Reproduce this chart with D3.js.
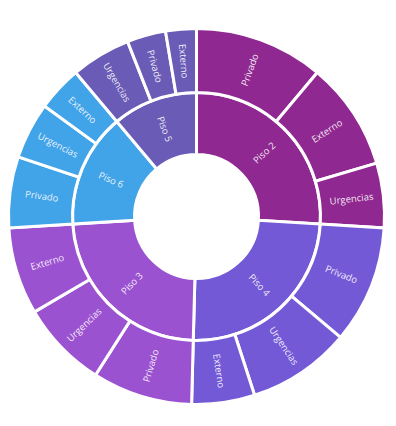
<!DOCTYPE html>
<html>
<head>
<meta charset="utf-8">
<script src="https://cdn.jsdelivr.net/npm/d3@7"></script>
<style>
  body { margin: 0; background: #fff; }
  svg text { font-family: "Open Sans", sans-serif; }
</style>
</head>
<body>
<div id="chart"></div>
<script>
const pisos = ["Piso 2", "Piso 4", "Piso 3", "Piso 6", "Piso 5"];
const tiposPorPiso = [
    ["Privado", "Externo", "Urgencias"],
    ["Privado", "Urgencias", "Externo"],
    ["Privado", "Urgencias", "Externo"],
    ["Privado", "Urgencias", "Externo"],
    ["Urgencias", "Privado", "Externo"]
];
const valoresPorPiso = [
    [40, 33.5, 20],
    [36.5, 32, 19.5],
    [31, 27, 27],
    [22, 17.5, 14],
    [18.5, 12, 9.5]
];
const colores = ["#8f2890", "#7459d6", "#9b52d1", "#41a3e8", "#6a5bb6"];

const width = 396, height = 426;
const cx = 196.5, cy = 216.5;

// build hierarchy from arrays
const tree = {
    name: "root",
    children: pisos.map((p, i) => ({
        name: p,
        children: tiposPorPiso[i].map((t, j) => ({ name: t, value: valoresPorPiso[i][j] }))
    }))
};

const root = d3.hierarchy(tree).sum(d => d.value || 0);
d3.partition().size([2 * Math.PI, 3])(root);

const rScale = d3.scaleLinear().domain([1, 2, 3]).range([62, 124, 188]);
const color = d3.scaleOrdinal().domain(pisos).range(colores);

const arc = d3.arc()
    .startAngle(d => d.x0)
    .endAngle(d => d.x1)
    .innerRadius(d => rScale(d.y0))
    .outerRadius(d => rScale(d.y1));

const svg = d3.select("#chart").append("svg")
    .attr("width", width)
    .attr("height", height);

const g = svg.append("g").attr("transform", `translate(${cx},${cy})`);

const nodes = root.descendants().filter(d => d.depth > 0);

g.selectAll("path")
    .data(nodes)
    .join("path")
    .attr("d", arc)
    .attr("fill", d => color(d.depth === 1 ? d.data.name : d.parent.data.name))
    .attr("stroke", "#fff")
    .attr("stroke-width", 3);

g.selectAll("text")
    .data(nodes)
    .join("text")
    .attr("transform", d => {
        const x = (d.x0 + d.x1) / 2 * 180 / Math.PI;
        const y = (rScale(d.y0) + rScale(d.y1)) / 2;
        return `rotate(${x - 90}) translate(${y},0) rotate(${x < 180 ? 0 : 180})`;
    })
    .attr("dy", "0.35em")
    .attr("text-anchor", "middle")
    .attr("fill", "#fff")
    .attr("fill-opacity", 0.9)
    .attr("font-size", 9.5)
    .text(d => d.data.name);
</script>
</body>
</html>
